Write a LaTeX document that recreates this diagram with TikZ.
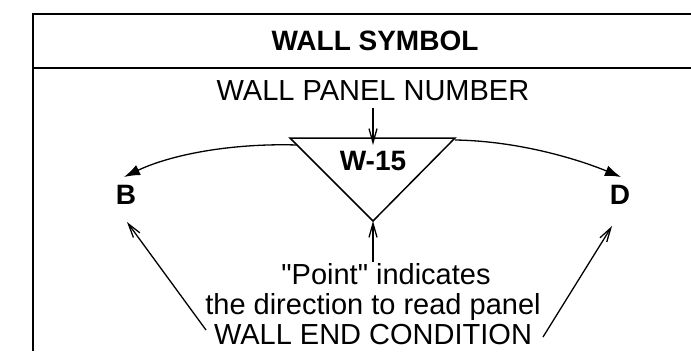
\documentclass[tikz,border=0pt]{standalone}
\usepackage{fontspec}
\setmainfont{Liberation Sans}[Ligatures=TeXOff]
\usetikzlibrary{arrows.meta}
\begin{document}
\begin{tikzpicture}[x=1pt,y=-1pt,
  lbl/.style={inner sep=0pt, anchor=base, font=\fontsize{29}{33}\selectfont},
  blbl/.style={inner sep=0pt, font=\fontsize{28}{32}\selectfont\bfseries},
  ln/.style={line width=2pt},
  thin/.style={line width=1.3pt},
  openarrow/.style={thin, -{Straight Barb[length=14pt,width=8pt]}},
  fillarrow/.style={thin, -{Latex[length=16pt,width=11pt]}}]
\useasboundingbox (0,0) rectangle (691,351);
\draw[ln] (691,14) -- (33,14) -- (33,351);
\draw[ln] (33,68) -- (691,68);
\node[blbl] (title) at (375,41) {WALL SYMBOL};
\node[lbl] (wpn) at (373,100) {WALL PANEL NUMBER};
\coordinate (tl) at (290,138);
\coordinate (tr) at (455,138);
\coordinate (tb) at (373,221);
\draw[line width=1.5pt, line join=miter] (tl) -- (tr) -- (tb) -- cycle;
\node[blbl] (w15) at (373,161) {W-15};
\node[blbl] (B) at (126,195) {B};
\node[blbl] (D) at (620,195) {D};
\coordinate (ls) at (297,145);
\coordinate (rs) at (455,140);
\coordinate (lt) at (124,177);
\coordinate (rt) at (621,177);
\draw[fillarrow] (ls) .. controls (230,143) and (170,155) .. (lt);
\draw[fillarrow] (rs) .. controls (520,141) and (580,160) .. (rt);
\coordinate (a1) at (373,108);
\coordinate (a1e) at (373,145);
\draw[openarrow] (a1) -- (a1e);
\node[lbl] (p1) at (386,284) {"Point" indicates};
\node[lbl] (p2) at (373,314) {the direction to read panel};
\node[lbl] (p3) at (373,344) {WALL END CONDITION};
\coordinate (a2) at (373,262);
\draw[openarrow] (a2) -- (tb);
\coordinate (bl) at (206,330);
\coordinate (blt) at (127,222);
\draw[openarrow] (bl) -- (blt);
\coordinate (br) at (543,337);
\coordinate (brt) at (612,226);
\draw[openarrow] (br) -- (brt);
\end{tikzpicture}
\end{document}
